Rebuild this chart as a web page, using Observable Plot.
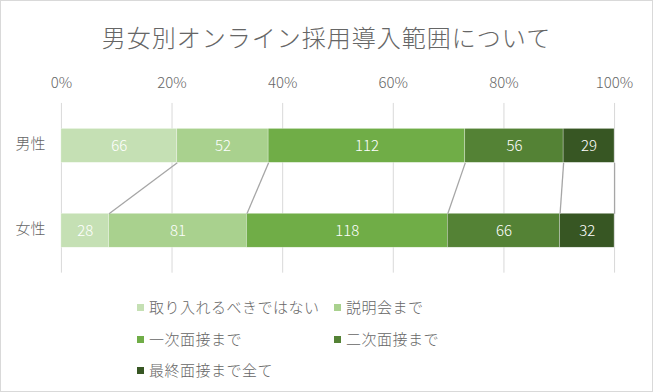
<!DOCTYPE html>
<html><head><meta charset="utf-8">
<script src="https://cdn.jsdelivr.net/npm/d3@7"></script>
<script src="https://cdn.jsdelivr.net/npm/@observablehq/plot@0.6"></script>
<style>
body{margin:0;background:#fff;}
#wrap{position:relative;width:653px;height:392px;box-sizing:border-box;border:1px solid #d9d9d9;background:#fff;font-family:"Noto Sans CJK JP","Noto Sans",sans-serif;font-weight:300;color:#666666;overflow:hidden;}
#title{position:absolute;left:0;top:21px;width:100%;text-align:center;font-size:24px;line-height:30px;letter-spacing:1px;}
#chart{position:absolute;left:-1px;top:58px;}
.leg{position:absolute;font-size:15px;line-height:20px;white-space:nowrap;letter-spacing:0.5px;}
.sw{display:inline-block;width:7px;height:7px;margin-right:5px;vertical-align:2px;}
</style></head>
<body>
<div id="wrap">
<div id="title">男女別オンライン採用導入範囲について</div>
<div id="chart"></div>
<div id="legend"></div>
</div>
<script>
const rows = ["男性", "女性"];
const categories = ["取り入れるべきではない", "説明会まで", "一次面接まで", "二次面接まで", "最終面接まで全て"];
const male = [66, 52, 112, 56, 29];
const female = [28, 81, 118, 66, 32];
const colors = ["#c5e0b4", "#a9d18e", "#70ad47", "#548235", "#375623"];
const tickValues = [0, 0.2, 0.4, 0.6, 0.8, 1];
const tickLabels = ["0%", "20%", "40%", "60%", "80%", "100%"];

const series = [male, female];
const segs = [];
const bounds = [];
series.forEach((vals, r) => {
  const total = d3.sum(vals);
  let cum = 0;
  vals.forEach((v, c) => {
    segs.push({r, c, value: v, x1: cum / total, x2: (cum + v) / total});
    cum += v;
  });
  bounds.push(d3.cumsum(vals).map(s => s / total));
});
const links = categories.map((_, c) => ({xa: bounds[0][c], xb: bounds[1][c]}));

const half = 0.2;
const chart = Plot.plot({
  width: 653, height: 222,
  marginLeft: 61, marginRight: 38, marginTop: 44, marginBottom: 8,
  x: {domain: [0, 1], label: null},
  y: {domain: [-0.5, 1.5], reverse: true, label: null},
  style: {fontFamily: '"Noto Sans CJK JP","Noto Sans",sans-serif', fontWeight: 300, fontSize: "15px", color: "#666666", background: "transparent", overflow: "visible"},
  marks: [
    Plot.gridX(tickValues, {stroke: "#d9d9d9", strokeOpacity: 1, strokeWidth: 1}),
    Plot.axisX(tickValues, {anchor: "top", label: null, tickSize: 0, tickPadding: 15, tickFormat: d => tickLabels[Math.round(d * 5)], fontSize: 15}),
    Plot.axisY([0, 1], {label: null, tickSize: 0, tickPadding: 16, dy: -2, tickFormat: i => rows[i], fontSize: 15}),
    Plot.rectX(segs, {x1: "x1", x2: "x2", y1: d => d.r - half, y2: d => d.r + half, fill: d => colors[d.c], stroke: "#ffffff", strokeWidth: 0.5, strokeOpacity: 0.6}),
    Plot.link(links, {x1: "xa", x2: "xb", y1: () => half, y2: () => 1 - half, stroke: "#a6a6a6", strokeWidth: 1.3}),
    Plot.text(segs, {x: d => (d.x1 + d.x2) / 2, y: "r", text: "value", fill: "#ffffff", fontSize: 15})
  ]
});
document.getElementById("chart").appendChild(chart);

const legend = document.getElementById("legend");
categories.forEach((name, i) => {
  const col = i % 2, row = Math.floor(i / 2);
  const el = document.createElement("div");
  el.className = "leg";
  el.style.left = (136 + col * 197) + "px";
  el.style.top = (296 + row * 31.5) + "px";
  el.innerHTML = `<span class="sw" style="background:${colors[i]}"></span>${name}`;
  legend.appendChild(el);
});
</script>
</body></html>
